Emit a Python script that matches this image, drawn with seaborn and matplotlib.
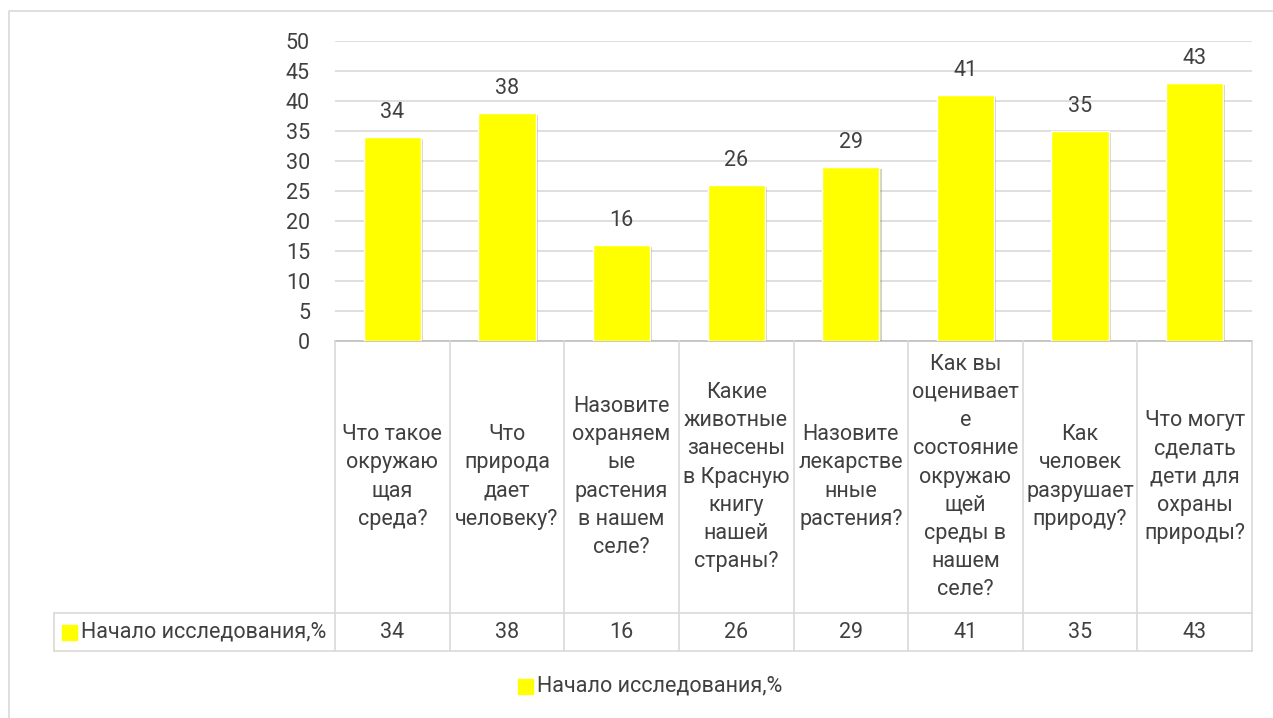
import numpy as np
import pandas as pd
import matplotlib
matplotlib.use('Agg')
import matplotlib.pyplot as plt
import matplotlib.patheffects as pe
from matplotlib.lines import Line2D
from matplotlib.patches import Rectangle
import seaborn as sns

sns.set_style('white')
plt.rcParams['font.family'] = ['Roboto', 'DejaVu Sans']

# data
questions = ['Что такое\nокружаю\nщая\nсреда?',
             'Что\nприрода\nдает\nчеловеку?',
             'Назовите\nохраняем\nые\nрастения\nв нашем\nселе?',
             'Какие\nживотные\nзанесены\nв Красную\nкнигу\nнашей\nстраны?',
             'Назовите\nлекарстве\nнные\nрастения?',
             'Как вы\nоценивает\nе\nсостояние\nокружаю\nщей\nсреды в\nнашем\nселе?',
             'Как\nчеловек\nразрушает\nприроду?',
             'Что могут\nсделать\nдети для\nохраны\nприроды?']
values = [34, 38, 16, 26, 29, 41, 35, 43]
series_name = 'Начало исследования,%'

df = pd.DataFrame({'q': questions, 'v': values})

W, H = 1273, 718
fig = plt.figure(figsize=(W / 100, H / 100), dpi=100)
fs = 15.5

# plot area in pixels
x0, x1 = 335, 1252
y_top, y_bot = 41, 341
ax = fig.add_axes([x0 / W, 1 - y_bot / H, (x1 - x0) / W, (y_bot - y_top) / H])

sns.barplot(data=df, x='q', y='v', color='#FFFF00', width=0.5, saturation=1,
            ax=ax, zorder=3)
for p in ax.patches:
    p.set_path_effects([pe.SimplePatchShadow(offset=(1.5, -1.5), alpha=0.25), pe.Normal()])

txt = '#404040'
grid = '#d9d9d9'
ax.set_ylim(0, 50)
ax.set_yticks(range(0, 51, 5))
ax.yaxis.grid(True, color=grid, lw=1.2, zorder=0)
ax.set_xlim(-0.5, len(values) - 0.5)
for s in ['top', 'right', 'left']:
    ax.spines[s].set_visible(False)
ax.spines['bottom'].set_color('#bfbfbf')
ax.spines['bottom'].set_linewidth(1.2)
ax.set_xticks([])
ax.set_xlabel('')
ax.set_ylabel('')
ax.tick_params(axis='y', length=0, labelsize=fs, labelcolor=txt, pad=18)

for i, v in enumerate(values):
    ax.text(i, v + 2.4, str(v), ha='center', va='bottom', fontsize=fs, color=txt)

# data table under the axis
def fx(px):
    return px / W

def fy(py):
    return 1 - py / H

colw = (x1 - x0) / len(values)
row_top, row_bot = 613, 651
tab_left = 54
lc = '#d9d9d9'
for i in range(len(values) + 1):
    xx = x0 + i * colw
    fig.add_artist(Line2D([fx(xx), fx(xx)], [fy(y_bot), fy(row_bot)], color=lc, lw=1.2))
fig.add_artist(Line2D([fx(tab_left), fx(x1)], [fy(row_top), fy(row_top)], color=lc, lw=1.2))
fig.add_artist(Line2D([fx(tab_left), fx(x1)], [fy(row_bot), fy(row_bot)], color=lc, lw=1.2))
fig.add_artist(Line2D([fx(tab_left), fx(tab_left)], [fy(row_top), fy(row_bot)], color=lc, lw=1.2))

for i, (q, v) in enumerate(zip(questions, values)):
    cx = x0 + (i + 0.5) * colw
    fig.text(fx(cx), fy((y_bot + row_top) / 2), q, ha='center', va='center',
             fontsize=fs, color=txt, linespacing=1.45)
    fig.text(fx(cx), fy((row_top + row_bot) / 2), str(v), ha='center', va='center',
             fontsize=fs, color=txt)

# legend key in the table
fig.add_artist(Rectangle((fx(62), fy(640)), 15 / W, 15 / H, color='#FFFF00', transform=fig.transFigure))
fig.text(fx(81), fy((row_top + row_bot) / 2), series_name, ha='left', va='center',
         fontsize=fs, color=txt)

# bottom legend
fig.add_artist(Rectangle((fx(518), fy(694)), 15 / W, 15 / H, color='#FFFF00', transform=fig.transFigure))
fig.text(fx(537), fy(686), series_name, ha='left', va='center', fontsize=fs, color=txt)

# chart frame
fig.add_artist(Line2D([fx(9), fx(9), fx(W)], [0, fy(11), fy(11)], color='#d9d9d9', lw=1.2))

fig.savefig('out.png', dpi=100)
